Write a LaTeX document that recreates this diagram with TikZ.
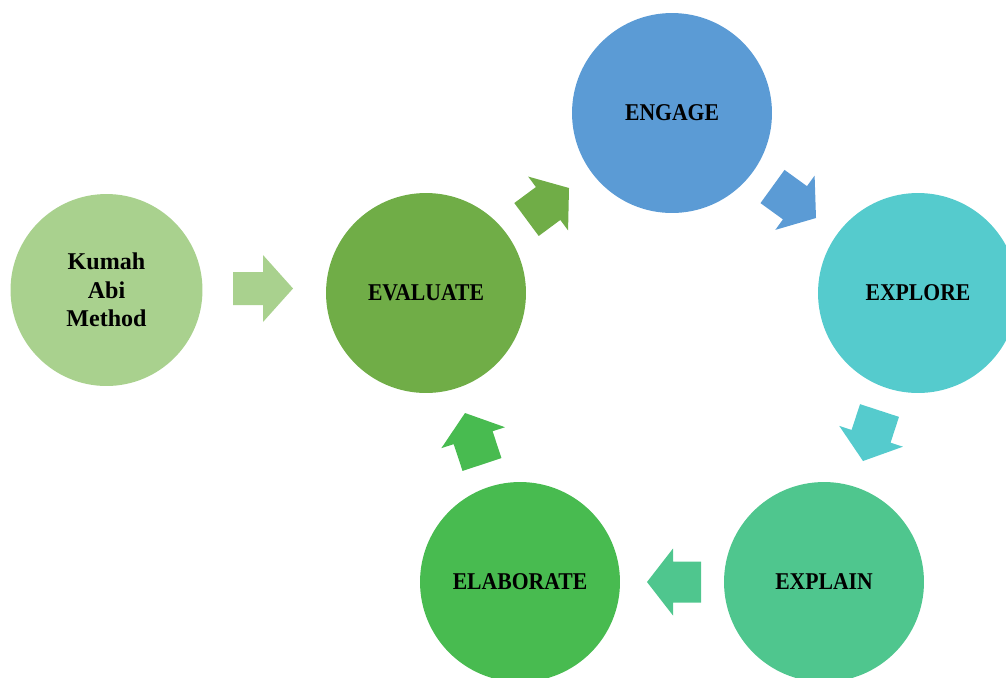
\documentclass[tikz,border=0pt]{standalone}
\usepackage{fontspec}
\setmainfont{Liberation Serif}
\newfontfamily\capfont[FakeStretch=0.9]{Liberation Serif}
\usetikzlibrary{calc}
\definecolor{ckumah}{HTML}{A9D18E}
\definecolor{ceval}{HTML}{70AD47}
\definecolor{cengage}{HTML}{5B9BD5}
\definecolor{cexplore}{HTML}{55CBCD}
\definecolor{cexplain}{HTML}{4FC68E}
\definecolor{celab}{HTML}{48BB50}
% #1 name, #2 tail, #3 tip, #4 colour, #5 shaft half width, #6 head half width, #7 head length
\newcommand\blockarrow[7]{%
  \coordinate (#1-b) at ($(#3)!#7!(#2)$);
  \fill[#4] ($(#2)!#5!90:(#3)$) -- ($(#1-b)!#5!-90:(#2)$) -- ($(#1-b)!#6!-90:(#2)$)
    -- (#3) -- ($(#1-b)!#6!90:(#2)$) -- ($(#1-b)!#5!90:(#2)$) -- ($(#2)!#5!-90:(#3)$) -- cycle;}
\begin{document}
\begin{tikzpicture}[x=0.02cm,y=-0.02cm,
  phase/.style={circle, minimum size=4cm, inner sep=0pt, text=black,
    font=\fontsize{13.7}{16.2}\selectfont\capfont\bfseries},
  start/.style={circle, minimum size=3.84cm, inner sep=0pt, text=black, align=center,
    font=\fontsize{13.7}{16.2}\selectfont\bfseries}]
\clip (0,0) rectangle (1006,677);
\node[start, fill=ckumah] (kumah) at (106.5,290) {Kumah\\Abi\\Method};
\node[phase, fill=ceval] (evaluate) at (426,293) {EVALUATE};
\node[phase, fill=cengage] (engage) at (672,113) {ENGAGE};
\node[phase, fill=cexplore] (explore) at (918,293) {EXPLORE};
\node[phase, fill=cexplain] (explain) at (824,582) {EXPLAIN};
\node[phase, fill=celab] (elaborate) at (520,582) {ELABORATE};
% arrow ends
\coordinate (a0t) at (233,288.5); \coordinate (a0p) at (293,288.5);
\coordinate (a1t) at (526.5,219.5); \coordinate (a1p) at (569,188);
\coordinate (a2t) at (772.5,186.5); \coordinate (a2p) at (816,218);
\coordinate (a3t) at (879.5,410.5); \coordinate (a3p) at (863,461);
\coordinate (a4t) at (701,582); \coordinate (a4p) at (647,582);
\coordinate (a5t) at (482,464.5); \coordinate (a5p) at (465,413);
\blockarrow{a0}{a0t}{a0p}{ckumah}{0.33cm}{0.67cm}{0.6cm}
\blockarrow{a1}{a1t}{a1p}{ceval}{0.41cm}{0.67cm}{0.52cm}
\blockarrow{a2}{a2t}{a2p}{cengage}{0.41cm}{0.67cm}{0.52cm}
\blockarrow{a3}{a3t}{a3p}{cexplore}{0.41cm}{0.67cm}{0.52cm}
\blockarrow{a4}{a4t}{a4p}{cexplain}{0.41cm}{0.67cm}{0.52cm}
\blockarrow{a5}{a5t}{a5p}{celab}{0.41cm}{0.67cm}{0.52cm}
\end{tikzpicture}
\end{document}
